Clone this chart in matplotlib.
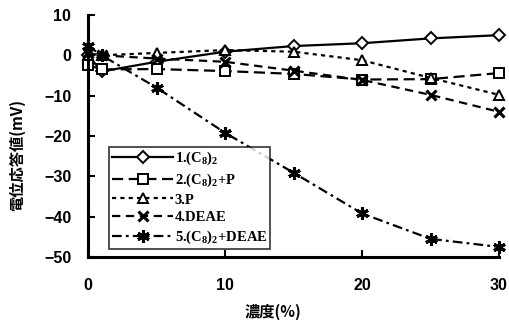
import matplotlib
matplotlib.use("Agg")
import matplotlib.pyplot as plt

plt.rcParams['lines.scale_dashes'] = False
plt.rcParams['mathtext.fontset'] = 'custom'
plt.rcParams['mathtext.rm'] = 'Liberation Serif:bold'
plt.rcParams['mathtext.default'] = 'rm'

conc = [0, 1, 5, 10, 15, 20, 25, 30]
s1 = [0.0, -4.0, -1.6, 0.9, 2.3, 3.0, 4.2, 5.0]      # 1.(C8)2
s2 = [-2.4, -3.5, -3.4, -3.9, -4.6, -6.0, -5.9, -4.4]  # 2.(C8)2+P
s3 = [0.0, 0.0, 0.6, 1.3, 0.9, -1.2, -5.6, -9.8]      # 3.P
s4 = [0.5, 0.0, -0.8, -1.6, -3.8, -6.1, -9.8, -14.0]  # 4.DEAE
s5 = [2.3, 0.0, -8.0, -19.2, -29.1, -39.2, -45.5, -47.5]  # 5.(C8)2+DEAE

labels = ['1.(C$_8$)$_2$', '2.(C$_8$)$_2$+P', '3.P', '4.DEAE', '5.(C$_8$)$_2$+DEAE']
xticks = [0, 10, 20, 30]
yticks = [10, 0, -10, -20, -30, -40, -50]

fig = plt.figure(figsize=(5.1, 3.24), dpi=100)
ax = fig.add_axes([88/510, 1-257/324, (499-88)/510, (257-15)/324])

common = dict(color='black', lw=1.6, mfc='white', mec='black', mew=1.4, clip_on=False)
ax.plot(conc, s1, ls='-', marker='D', ms=6.5, label=labels[0], **common)
ax.plot(conc, s2, dashes=(8, 4), marker='s', ms=7, label=labels[1], **common)
ax.plot(conc, s3, dashes=(3, 3), marker='^', ms=7.5, label=labels[2], **common)
c4 = dict(common); c4['mew'] = 2.2
ax.plot(conc, s4, dashes=(6, 4), marker='x', ms=7, label=labels[3], **c4)
ax.plot(conc, s5, dashes=(7, 3, 2, 3), marker=(6, 2, 0), ms=9, label=labels[4], **c4)

ax.set_xlim(0, 30)
ax.set_ylim(-50, 10)
ax.set_xticks(xticks)
ax.set_yticks(yticks)
for s in ['top', 'right']:
    ax.spines[s].set_visible(False)
for s in ['left', 'bottom']:
    ax.spines[s].set_linewidth(2.2)
ax.tick_params(direction='in', length=5, width=1.5)
ax.tick_params(axis='x', pad=15)
ax.tick_params(axis='y', pad=12)
for t in ax.get_xticklabels() + ax.get_yticklabels():
    t.set_fontfamily('Liberation Sans')
    t.set_fontweight('bold')
    t.set_fontsize(11.5)

fig.text(273/510, 1-312/324, '濃度(%)', ha='center', va='center',
         family=['Noto Sans CJK JP', 'DejaVu Sans'], fontweight='bold', fontsize=11)
fig.text(17/510, 1-155/324, '電位応答値(mV)', ha='center', va='center', rotation=90,
         family=['Noto Sans CJK JP', 'DejaVu Sans'], fontweight='bold', fontsize=11)

leg = ax.legend(loc='upper left', bbox_to_anchor=(109/510, 1-147/324),
                bbox_transform=fig.transFigure, frameon=True, fancybox=False,
                prop={'family': 'Liberation Serif', 'weight': 'bold', 'size': 10.5},
                handlelength=4.2, handletextpad=0.1, labelspacing=0.3,
                borderpad=0.2, borderaxespad=0, numpoints=1)
leg.get_frame().set_edgecolor('black')
leg.get_frame().set_linewidth(1.2)

fig.savefig('out.png', dpi=100)
